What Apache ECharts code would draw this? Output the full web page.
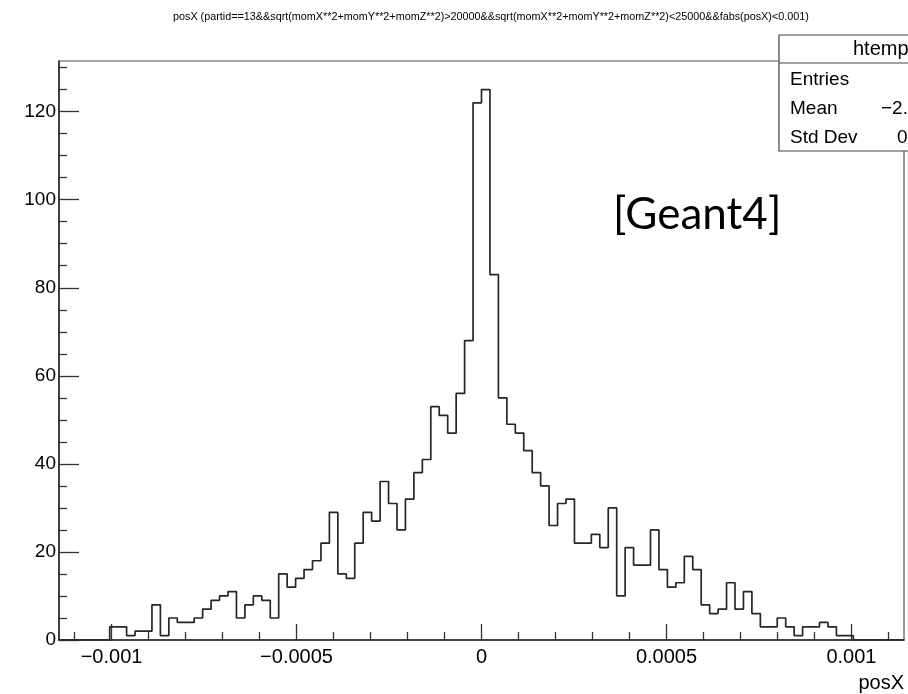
<!DOCTYPE html>
<html><head><meta charset="utf-8">
<script src="https://cdn.jsdelivr.net/npm/echarts@6/dist/echarts.min.js"></script>
<style>html,body{margin:0;padding:0;background:#fff}#c{width:908px;height:694px}</style>
</head><body><div id="c"></div>
<script>
const titleText = 'posX (partid==13&&sqrt(momX**2+momY**2+momZ**2)>20000&&sqrt(momX**2+momY**2+momZ**2)<25000&&fabs(posX)<0.001)';
const xMin = -0.001142;
const xMax = 0.001142;
const nBins = 100;
const counts = [
  0,0,0,0,0,0,3,3,1,2,
  2,8,1,5,4,4,5,7,9,10,
  11,5,8,10,9,5,15,12,14,16,
  18,22,29,15,14,22,29,27,36,31,
  25,32,38,41,53,51,47,56,68,122,
  125,83,55,49,47,43,38,35,26,31,
  32,22,22,24,21,30,10,21,17,17,
  25,16,12,13,19,16,8,6,7,13,
  7,11,6,3,3,5,3,1,3,3,
  4,3,1,1,0,0,0,0,0,0
];
const xTickValues = [-0.001, -0.0005, 0, 0.0005, 0.001];
const xTickLabels = ['\u22120.001', '\u22120.0005', '0', '0.0005', '0.001'];
const xMinorValues = [-0.0011,-0.0009,-0.0008,-0.0007,-0.0006,-0.0004,-0.0003,-0.0002,-0.0001,0.0001,0.0002,0.0003,0.0004,0.0006,0.0007,0.0008,0.0009,0.0011];
const yMin = 0, yMax = 131.5;
const yTickValues = [0, 20, 40, 60, 80, 100, 120];
const yMinorValues = [5,10,15,25,30,35,45,50,55,65,70,75,85,90,95,105,110,115,125,130];
const xAxisTitle = 'posX';
const statTitle = 'htemp';
const statLabels = ['Entries', 'Mean', 'Std Dev'];
const statValues = ['', '\u22122.548e\u221206', '0.0003'];
const annotation = '[Geant4]';

const binW = (xMax - xMin) / nBins;
const stepData = counts.map((c, i) => [xMin + i * binW, c]);
stepData.push([xMax, counts[nBins - 1]]);

const FONT = '"Liberation Sans", Arial, Helvetica, sans-serif';
const chart = echarts.init(document.getElementById('c'), null, {renderer: 'canvas'});
const gridBox = {left: 59, right: 4, top: 61, bottom: 54};

const statGraphics = [];
const bx = 779, by = 35, bw = 140, bh = 116;
const rowY = [80, 109, 138];
const valX = [0, 881, 897];
statGraphics.push({type: 'rect', shape: {x: bx, y: by, width: bw, height: bh}, style: {fill: '#fff', stroke: '#444', lineWidth: 1.2}, z: 10});
statGraphics.push({type: 'line', shape: {x1: bx, y1: 63, x2: bx + bw, y2: 63}, style: {stroke: '#444', lineWidth: 1.2}, z: 11});
statGraphics.push({type: 'text', x: 853, y: 49, style: {text: statTitle, font: '20px ' + FONT, fill: '#000', textVerticalAlign: 'middle', textAlign: 'left'}, z: 12});
statLabels.forEach((t, i) => {
  statGraphics.push({type: 'text', x: 790, y: rowY[i], style: {text: t, font: '19px ' + FONT, fill: '#000', textVerticalAlign: 'middle', textAlign: 'left'}, z: 12});
  if (statValues[i]) statGraphics.push({type: 'text', x: valX[i], y: rowY[i], style: {text: statValues[i], font: '19px ' + FONT, fill: '#000', textVerticalAlign: 'middle', textAlign: 'left'}, z: 12});
});

const option = {
  animation: false,
  backgroundColor: '#fff',
  title: {
    text: titleText, left: 168, top: 7,
    textStyle: {fontFamily: FONT, fontSize: 10.8, fontWeight: 'normal', color: '#000'}
  },
  grid: Object.assign({show: true, borderColor: '#555', borderWidth: 1.2, backgroundColor: 'transparent', containLabel: false, outerBoundsMode: 'none'}, gridBox),
  xAxis: [
    {
      type: 'value', min: xMin, max: xMax, position: 'bottom',
      axisLine: {show: true, onZero: false, lineStyle: {color: '#222', width: 1.5}},
      axisTick: {show: true, inside: true, length: 16, customValues: xTickValues, lineStyle: {color: '#333', width: 1.3}},
      axisLabel: {show: true, customValues: xTickValues, margin: 7, fontFamily: FONT, fontSize: 20, color: '#000',
        formatter: v => { const k = xTickValues.findIndex(t => Math.abs(t - v) < 1e-9); return k >= 0 ? xTickLabels[k] : ''; }},
      splitLine: {show: false}
    },
    {
      type: 'value', min: xMin, max: xMax, position: 'bottom',
      axisLine: {show: false, onZero: false},
      axisTick: {show: true, inside: true, length: 8, customValues: xMinorValues, lineStyle: {color: '#333', width: 1.3}},
      axisLabel: {show: false}, splitLine: {show: false}
    }
  ],
  yAxis: [
    {
      type: 'value', min: yMin, max: yMax, position: 'left',
      axisLine: {show: true, onZero: false, lineStyle: {color: '#222', width: 1.5}},
      axisTick: {show: true, inside: true, length: 20, customValues: yTickValues, lineStyle: {color: '#333', width: 1.3}},
      axisLabel: {show: true, customValues: yTickValues, margin: 3, fontFamily: FONT, fontSize: 19, color: '#000'},
      splitLine: {show: false}
    },
    {
      type: 'value', min: yMin, max: yMax, position: 'left',
      axisLine: {show: false, onZero: false},
      axisTick: {show: true, inside: true, length: 8, customValues: yMinorValues, lineStyle: {color: '#333', width: 1.3}},
      axisLabel: {show: false}, splitLine: {show: false}
    }
  ],
  series: [{
    type: 'line', step: 'end', xAxisIndex: 0, yAxisIndex: 0,
    data: stepData, showSymbol: false, symbol: 'none', clip: true,
    lineStyle: {color: '#262626', width: 1.7}, z: 5
  }],
  graphic: [
    {type: 'text', right: 4, top: 673, style: {text: xAxisTitle, font: '20px ' + FONT, fill: '#000'}},
    {type: 'text', left: 613, top: 193, style: {text: annotation, font: '44px Lato, "Open Sans", sans-serif', fill: '#000'}}
  ].concat(statGraphics)
};
chart.setOption(option);
</script></body></html>
